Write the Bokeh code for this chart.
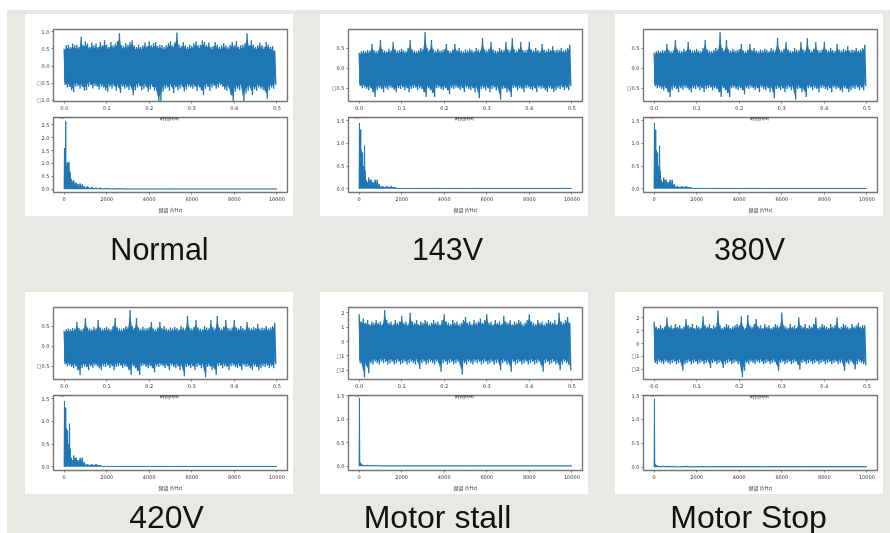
from bokeh.embed import file_html
from bokeh.resources import INLINE
from bokeh.layouts import column, row
from bokeh.models import Label, Range1d, FixedTicker, ColumnDataSource
from bokeh.plotting import figure
import numpy as np

captions_row1 = ["Normal", "143V", "380V"]
captions_row2 = ["420V", "Motor stall", "Motor Stop"]
time_ticks = [0.0, 0.1, 0.2, 0.3, 0.4, 0.5]
freq_ticks = [0, 2000, 4000, 6000, 8000, 10000]

time_s = [0.000,0.005,0.010,0.015,0.020,0.025,0.030,0.035,0.040,0.045,0.050,0.055,0.060,0.065,0.070,0.075,0.080,0.085,0.090,0.095,
          0.100,0.105,0.110,0.115,0.120,0.125,0.130,0.135,0.140,0.145,0.150,0.155,0.160,0.165,0.170,0.175,0.180,0.185,0.190,0.195,
          0.200,0.205,0.210,0.215,0.220,0.225,0.230,0.235,0.240,0.245,0.250,0.255,0.260,0.265,0.270,0.275,0.280,0.285,0.290,0.295,
          0.300,0.305,0.310,0.315,0.320,0.325,0.330,0.335,0.340,0.345,0.350,0.355,0.360,0.365,0.370,0.375,0.380,0.385,0.390,0.395,
          0.400,0.405,0.410,0.415,0.420,0.425,0.430,0.435,0.440,0.445,0.450,0.455,0.460,0.465,0.470,0.475,0.480,0.485,0.490,0.495]

normal_high = [.5,.6,.62,.55,.65,.6,.62,.55,.85,.6,.72,.65,.55,.68,.6,.66,.55,.7,.6,.75,
               .62,.55,.7,.6,.65,.72,.95,.6,.58,.66,.62,.7,.75,.6,.55,.62,.55,.6,.68,.58,
               .72,.6,.66,.7,.58,.62,.6,.55,.6,.66,.72,.6,.68,.97,.62,.58,.7,.6,.55,.62,
               .58,.66,.72,.6,.62,.75,.7,.6,.68,.55,.58,.7,.62,.55,.6,.66,.6,.56,.62,.7,
               .6,.72,.55,.6,.62,.66,.95,.6,.75,.62,.55,.6,.68,.6,.56,.7,.62,.55,.58,.45]
normal_low = [-.55,-.62,-.6,-.7,-.76,-.6,-.58,-.66,-.6,-.72,-.7,-.6,-.55,-.65,-.58,-.6,-.68,-.6,-.62,-.7,
              -.75,-.6,-.66,-.58,-.72,-.62,-.78,-.6,-.66,-.62,-.7,-.6,-.85,-.7,-.62,-.58,-.7,-.66,-.6,-.75,
              -.68,-.6,-.72,-.7,-1.03,-1.02,-.75,-.66,-.62,-.72,-.6,-.78,-.62,-.7,-.66,-.6,-.74,-.68,-.6,-.62,
              -.66,-.6,-.72,-.62,-.7,-.85,-.66,-.6,-.72,-.62,-.58,-.66,-.62,-.55,-.6,-.68,-.72,-.62,-.85,-1.03,
              -.75,-.66,-.7,-.6,-1.03,-.8,-.72,-.62,-.85,-.68,-.72,-.62,-.66,-.7,-.72,-.95,-.7,-.62,-.66,-.55]

v143_high = [.38,.42,.44,.42,.45,.43,.6,.45,.42,.44,.7,.46,.44,.42,.48,.44,.65,.46,.43,.45,
             .48,.44,.42,.5,.7,.46,.44,.42,.45,.5,.47,.9,.5,.45,.7,.46,.43,.48,.44,.45,
             .47,.6,.44,.42,.46,.6,.45,.5,.44,.42,.46,.44,.48,.45,.42,.5,.46,.44,.75,.46,
             .44,.48,.65,.46,.44,.42,.5,.46,.44,.65,.47,.44,.75,.46,.43,.48,.65,.45,.44,.46,
             .65,.46,.44,.5,.45,.42,.6,.46,.44,.48,.45,.55,.44,.46,.45,.5,.44,.46,.5,.58]
v143_low = [-.45,-.5,-.48,-.52,-.55,-.5,-.6,-.72,-.55,-.5,-.52,-.6,-.5,-.54,-.48,-.5,-.55,-.6,-.5,-.52,
            -.48,-.55,-.5,-.6,-.52,-.5,-.48,-.55,-.5,-.52,-.6,-.72,-.5,-.55,-.62,-.72,-.5,-.48,-.52,-.55,
            -.5,-.55,-.65,-.5,-.52,-.48,-.5,-.55,-.5,-.6,-.48,-.52,-.55,-.5,-.6,-.5,-.75,-.52,-.5,-.55,
            -.5,-.6,-.52,-.48,-.55,-.5,-.78,-.52,-.5,-.6,-.55,-.72,-.5,-.48,-.55,-.5,-.52,-.6,-.5,-.48,
            -.52,-.55,-.5,-.6,-.48,-.52,-.5,-.55,-.6,-.5,-.52,-.6,-.55,-.5,-.52,-.48,-.55,-.5,-.55,-.45]

stall_high = [1.9,1.4,1.6,1.3,1.5,1.2,1.4,1.3,1.5,1.3,1.4,1.2,2.2,1.5,1.3,1.4,1.2,1.5,1.3,1.4,
              1.8,1.3,1.4,1.2,2.0,1.4,1.3,1.5,1.2,1.4,1.3,1.5,1.4,1.2,1.3,1.5,1.3,1.4,1.2,1.5,
              1.9,1.4,1.3,1.2,1.5,1.3,1.4,1.2,1.3,1.5,1.7,1.3,1.4,1.2,1.5,1.3,1.4,1.6,1.3,1.5,
              1.9,1.3,1.4,1.2,1.5,1.3,1.4,1.2,1.8,1.4,1.3,1.5,1.2,1.4,1.3,1.5,1.4,1.2,1.3,1.5,
              1.9,1.4,1.3,1.2,1.5,1.3,1.4,1.2,1.3,1.5,1.4,1.3,1.5,1.2,2.0,1.4,1.3,1.5,1.7,1.3]
stall_low = [-1.5,-1.6,-2.5,-1.7,-2.2,-1.5,-1.6,-1.4,-1.5,-1.6,-1.4,-1.5,-1.4,-1.6,-1.5,-1.4,-1.6,-1.5,-1.4,-1.6,
             -1.5,-1.4,-1.6,-1.5,-1.4,-1.5,-1.6,-1.4,-1.9,-1.5,-1.4,-1.6,-1.5,-1.4,-1.5,-1.6,-1.4,-1.5,-2.1,-1.5,
             -1.4,-1.6,-1.5,-1.4,-1.6,-1.5,-1.4,-1.6,-2.3,-1.5,-1.6,-1.4,-1.5,-1.6,-1.4,-1.5,-1.4,-1.6,-1.5,-1.4,
             -1.6,-1.5,-1.4,-1.6,-1.5,-1.4,-2.0,-1.5,-1.4,-1.6,-1.5,-2.1,-1.4,-1.6,-1.5,-1.4,-1.6,-1.5,-1.4,-1.6,
             -1.5,-1.4,-1.6,-1.5,-1.4,-1.6,-2.1,-1.5,-1.4,-1.6,-1.5,-1.4,-1.6,-1.5,-2.0,-1.6,-1.4,-1.5,-1.6,-2.0]

stop_high = [1.7,1.3,1.2,1.4,1.2,1.3,2.0,1.3,1.4,1.2,1.5,1.3,1.4,1.2,1.3,1.9,1.4,1.3,1.5,1.2,
             1.4,1.3,1.2,2.1,1.4,1.3,1.5,1.2,1.4,1.3,2.55,1.4,1.2,1.3,1.5,1.4,1.2,1.3,1.4,1.5,
             1.4,2.1,1.3,1.2,2.2,1.4,1.3,1.5,1.9,1.3,1.4,1.2,1.5,1.3,1.4,1.2,1.3,1.5,1.4,1.3,
             2.4,1.4,1.3,1.2,1.5,1.3,1.4,1.2,2.0,1.4,1.3,1.5,1.2,1.4,1.3,1.5,2.0,1.2,1.3,1.5,
             1.4,1.3,1.2,1.5,1.3,1.4,2.0,1.2,1.3,1.5,1.4,1.3,1.2,1.5,1.3,1.4,1.6,1.3,1.4,1.4]
stop_low = [-1.5,-1.6,-1.4,-1.5,-1.6,-1.4,-1.5,-1.6,-1.5,-1.4,-1.6,-1.5,-1.4,-2.1,-1.6,-1.5,-1.4,-1.6,-1.5,-1.4,
            -1.6,-1.5,-1.4,-1.6,-1.5,-1.4,-1.9,-1.5,-1.4,-1.6,-1.5,-1.4,-1.9,-1.6,-1.5,-1.4,-1.6,-1.5,-1.4,-1.6,
            -1.5,-2.6,-2.1,-1.5,-1.6,-1.4,-1.5,-1.6,-1.4,-1.5,-1.4,-1.6,-1.5,-1.4,-1.6,-1.5,-1.4,-1.6,-2.1,-1.5,
            -1.4,-1.6,-1.5,-1.4,-1.6,-1.5,-1.4,-1.6,-2.0,-1.5,-1.4,-1.6,-1.5,-1.4,-1.6,-1.5,-1.4,-1.6,-1.5,-1.4,
            -1.6,-1.5,-1.4,-1.6,-1.5,-1.4,-1.6,-1.5,-1.4,-2.1,-1.5,-1.6,-1.4,-1.5,-2.0,-1.6,-1.4,-1.5,-1.6,-1.7]

freq_hz = [0,15,30,45,60,75,90,105,120,135,150,165,180,195,210,225,240,255,270,285,300,
           330,360,390,420,450,480,510,540,570,600,650,700,750,800,850,900,950,1000,
           1100,1200,1300,1400,1500,1600,1700,1800,2000,2200,2500,3000,4000,5000,7000,10000]
normal_amp = [0,1.6,.1,1.6,.15,2.65,.2,.9,.1,1.0,.2,1.05,.1,1.0,.15,1.05,.1,.75,.1,.65,.05,
              .4,.05,.3,.05,.35,.05,.25,.04,.25,.04,.2,.04,.22,.03,.18,.03,.12,.03,
              .1,.02,.07,.02,.05,.02,.05,.01,.03,.01,.02,.01,.01,.01,.01,.01]
v143_amp = [0,1.45,.05,1.3,.1,1.3,.1,.85,.1,.6,.15,.8,.1,.5,.1,.3,.1,.95,.1,.4,.05,
            .2,.05,.15,.05,.25,.05,.2,.05,.2,.04,.15,.04,.2,.04,.2,.04,.1,.03,
            .05,.03,.05,.03,.05,.03,.03,.01,.01,.01,.01,.01,.01,.01,.01,.01]
stall_amp = [0,1.45,.02,.08,.02,.06,.02,.04,.01,.03,.01,.03,.01,.02,.01,.02,.01,.02,.01,.02,.01,
             .02,.01,.02,.01,.02,.01,.02,.01,.02,.01,.02,.01,.02,.01,.02,.01,.01,.01,
             .01,.01,.01,.01,.01,.01,.01,.01,.01,.01,.01,.01,.01,.01,.01,.01]
stop_amp = [0,1.43,.02,.07,.02,.05,.02,.04,.01,.03,.01,.03,.01,.02,.01,.02,.01,.02,.01,.02,.01,
            .02,.01,.02,.01,.02,.01,.02,.01,.02,.01,.02,.01,.02,.01,.02,.01,.02,.01,
            .01,.01,.01,.01,.02,.01,.01,.01,.01,.01,.01,.01,.01,.01,.01,.01]

BLUE = "#1f77b4"
GREY = "#e9e9e3"
CJK = "Noto Sans CJK SC"
TICK = "DejaVu Sans"
TXT = "#333333"


def style(p):
    p.grid.visible = False
    p.outline_line_color = "#777777"
    p.outline_line_width = 1.4
    p.background_fill_color = "white"
    p.border_fill_color = "white"
    for ax in [p.xaxis[0], p.yaxis[0]]:
        ax.axis_line_color = None
        ax.major_tick_line_color = "#555555"
        ax.major_tick_line_width = 0.7
        ax.major_tick_in = 0
        ax.major_tick_out = 2
        ax.minor_tick_line_color = None
        ax.major_label_text_font = TICK
        ax.major_label_text_font_size = "5px"
        ax.major_label_text_color = TXT
        ax.major_label_standoff = 2
        ax.axis_label_text_font = CJK
        ax.axis_label_text_font_size = "5px"
        ax.axis_label_text_font_style = "normal"
        ax.axis_label_text_color = TXT


def note(p, text, x, y, size="5px", align="left", angle=0):
    p.add_layout(Label(x=x, y=y, x_units="screen", y_units="screen", text=text,
                       text_font=CJK if align == "center" else TICK, text_font_size=size,
                       text_color=TXT, text_align=align, text_baseline="middle",
                       angle=angle, angle_units="deg"))


def panel(high, low, yr, yticks, ylabels, exp_top, amp, br, bticks, left, top_label_x):
    t = np.array(time_s)
    xs = np.column_stack([t, t + 0.0025]).ravel()
    ys = np.column_stack([high, low]).ravel()
    # solid core of the dense waveform; the spikes at its edge come from the line
    core = 0.86

    a = figure(width=268, height=98, x_range=Range1d(-0.025, 0.525), y_range=Range1d(*yr),
               output_backend="svg", toolbar_location=None, tools="",
               min_border_left=28, min_border_right=6, min_border_top=15, min_border_bottom=10)
    a.varea(x=t, y1=core * np.array(low), y2=core * np.array(high), fill_color=BLUE)
    a.line(source=ColumnDataSource(dict(x=xs, y=ys)), x="x", y="y", color=BLUE, line_width=1.3)
    style(a)
    a.xaxis[0].ticker = FixedTicker(ticks=time_ticks)
    a.xaxis[0].major_label_overrides = {v: f"{v:.1f}" for v in time_ticks}
    a.yaxis[0].ticker = FixedTicker(ticks=yticks)
    a.yaxis[0].major_label_overrides = dict(zip(yticks, ylabels))
    note(a, "幅值", top_label_x, 36.5, "5px", "center", 90)
    note(a, "时域图₁", 116, 79, "5.5px", "center")
    note(a, exp_top, 0, 76.5, "5px")

    b = figure(width=268, height=104, x_range=Range1d(-500, 10500), y_range=Range1d(*br),
               output_backend="svg", toolbar_location=None, tools="",
               min_border_left=28, min_border_right=6, min_border_top=5, min_border_bottom=24)
    b.varea(x=freq_hz, y1=[0] * len(freq_hz), y2=amp, fill_color=BLUE)
    b.line(freq_hz, amp, color=BLUE, line_width=1.0)
    style(b)
    b.xaxis[0].ticker = FixedTicker(ticks=freq_ticks)
    b.xaxis[0].major_label_overrides = {v: str(v) for v in freq_ticks}
    b.xaxis[0].axis_label = "频谱 (f/Hz)"
    b.xaxis[0].axis_label_standoff = 2
    b.yaxis[0].ticker = FixedTicker(ticks=bticks)
    b.yaxis[0].major_label_overrides = {v: f"{v:.1f}" for v in bticks}
    note(b, "幅值", -19.5, 37.5, "5px", "center", 90)
    note(b, "频域图₁", 116, 76.5, "5.5px", "center")
    note(b, "时间(t/s)", 116, 75.5, "5px", "center")
    note(b, "1e□33", 0, 77, "5px")
    return column(a, b, margin=(0, 0, 0, left), width=268, styles={"background-color": "white"})


def strip(height, captions, xs, y, size):
    s = figure(width=883, height=height, x_range=Range1d(0, 1), y_range=Range1d(0, 1),
               output_backend="svg", toolbar_location=None, tools="",
               min_border=0, background_fill_color=GREY, border_fill_color=GREY, outline_line_color=None)
    s.xaxis.visible = False
    s.yaxis.visible = False
    s.grid.visible = False
    for c, x in zip(captions, xs):
        s.add_layout(Label(x=x, y=y, x_units="screen", y_units="screen", text=c,
                           text_font="Liberation Sans", text_font_size=size, text_color="#111111",
                           text_align="center", text_baseline="middle"))
    return s


bt_big = [0.0, 0.5, 1.0, 1.5, 2.0, 2.5]
bt_small = [0.0, 0.5, 1.0, 1.5]
t5 = [-1.0, -0.5, 0.0, 0.5, 1.0]
t3 = [-0.5, 0.0, 0.5]
ti = [-2, -1, 0, 1, 2]

p1 = panel(normal_high, normal_low, (-1.03, 1.06), t5, ["□1.0", "□0.5", "0.0", "0.5", "1.0"], "1e□32",
           normal_amp, (-0.13, 2.79), bt_big, 18, -24.5)
p2 = panel(v143_high, v143_low, (-0.83, 0.96), t3, ["□0.5", "0.0", "0.5"], "1e□32",
           v143_amp, (-0.08, 1.57), bt_small, 27, -24.5)
p3 = panel(v143_high, v143_low, (-0.83, 0.96), t3, ["□0.5", "0.0", "0.5"], "1e□32",
           v143_amp, (-0.08, 1.57), bt_small, 27, -24.5)
p4 = panel(v143_high, v143_low, (-0.83, 0.96), t3, ["□0.5", "0.0", "0.5"], "1e□32",
           v143_amp, (-0.08, 1.57), bt_small, 18, -24.5)
p5 = panel(stall_high, stall_low, (-2.64, 2.37), ti, ["□2", "□1", "0", "1", "2"], "1e□33",
           stall_amp, (-0.09, 1.5), bt_small, 27, -19)
p6 = panel(stop_high, stop_low, (-2.78, 2.78), ti, ["□2", "□1", "0", "1", "2"], "1e□33",
           stop_amp, (-0.07, 1.5), bt_small, 27, -19)

top_gap = figure(width=883, height=4, output_backend="svg", toolbar_location=None, tools="", min_border=0,
                 x_range=Range1d(0, 1), y_range=Range1d(0, 1), background_fill_color=GREY,
                 border_fill_color=GREY, outline_line_color=None)
top_gap.xaxis.visible = False
top_gap.yaxis.visible = False
top_gap.grid.visible = False

root = column(top_gap, row(p1, p2, p3), strip(76, captions_row1, [152, 440, 742], 44, "30.5px"),
              row(p4, p5, p6), strip(39, captions_row2, [159, 430, 741], 17, "32px"),
              width=883, height=523, margin=(10, 0, 0, 7),
              styles={"background-color": GREY, "filter": "blur(0.6px)"})

open("out.html", "w").write(file_html(root, INLINE))
